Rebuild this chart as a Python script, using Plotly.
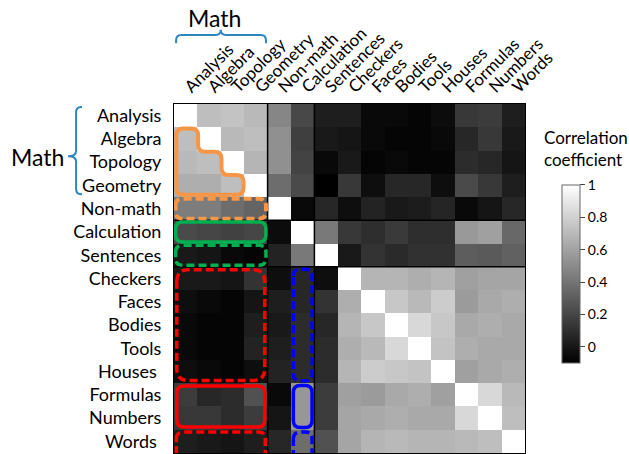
import plotly.graph_objects as go

# ---- categories -----------------------------------------------------------
labels = ["Analysis", "Algebra", "Topology", "Geometry", "Non-math", "Calculation",
          "Sentences", "Checkers", "Faces", "Bodies", "Tools", "Houses\u00a0",
          "Formulas", "Numbers", "Words\u00a0"]

# ---- correlation matrix, one row per category -----------------------------
analysis    = [1.00, 0.72, 0.74, 0.70, 0.48, 0.21, 0.03, 0.03, -0.06, -0.06, -0.08, -0.05, 0.14, 0.16, 0.03]
algebra     = [0.72, 1.00, 0.70, 0.72, 0.52, 0.17, 0.01, -0.01, -0.06, -0.08, -0.08, -0.06, 0.07, 0.14, 0.01]
topology    = [0.70, 0.72, 1.00, 0.68, 0.52, 0.19, -0.06, 0.01, -0.08, -0.06, -0.08, -0.08, 0.09, 0.07, -0.01]
geometry    = [0.65, 0.65, 0.72, 1.00, 0.37, 0.22, -0.10, 0.14, -0.04, 0.07, 0.07, -0.04, 0.22, 0.14, 0.03]
non_math    = [0.44, 0.44, 0.37, 0.33, 1.00, -0.06, 0.07, -0.04, 0.05, 0.01, 0.02, 0.06, -0.06, -0.01, 0.07]
calculation = [0.22, 0.20, 0.18, 0.20, -0.05, 1.00, 0.42, 0.14, 0.10, 0.15, 0.10, 0.10, 0.56, 0.59, 0.35]
sentences   = [0.01, -0.01, -0.06, -0.08, 0.05, 0.42, 1.00, 0.01, 0.12, 0.08, 0.11, 0.11, 0.30, 0.29, 0.32]
checkers    = [0.01, 0.01, -0.01, 0.12, -0.04, 0.07, -0.04, 1.00, 0.68, 0.68, 0.65, 0.68, 0.59, 0.61, 0.61]
faces       = [-0.04, -0.06, -0.08, -0.01, 0.03, 0.07, 0.12, 0.65, 1.00, 0.76, 0.70, 0.78, 0.57, 0.63, 0.65]
bodies      = [-0.06, -0.08, -0.08, 0.03, 0.01, 0.09, 0.07, 0.68, 0.76, 1.00, 0.83, 0.76, 0.63, 0.65, 0.63]
tools       = [-0.06, -0.08, -0.08, 0.05, 0.03, 0.09, 0.09, 0.65, 0.70, 0.83, 1.00, 0.74, 0.65, 0.63, 0.63]
houses      = [-0.04, -0.06, -0.08, -0.04, 0.05, 0.09, 0.09, 0.68, 0.78, 0.76, 0.74, 1.00, 0.59, 0.63, 0.65]
formulas    = [0.16, 0.07, 0.09, 0.25, -0.06, 0.55, 0.16, 0.59, 0.57, 0.63, 0.65, 0.59, 1.00, 0.83, 0.70]
numbers     = [0.14, 0.14, 0.09, 0.16, -0.01, 0.55, 0.16, 0.61, 0.63, 0.65, 0.63, 0.63, 0.83, 1.00, 0.72]
words       = [0.03, 0.01, -0.01, 0.03, 0.07, 0.37, 0.25, 0.61, 0.68, 0.70, 0.68, 0.68, 0.70, 0.72, 1.00]

matrix = [analysis, algebra, topology, geometry, non_math, calculation, sentences,
          checkers, faces, bodies, tools, houses, formulas, numbers, words]

colorbar_ticks = [0, 0.2, 0.4, 0.6, 0.8, 1]
colorbar_labels = ["0", "0.2", "0.4", "0.6", "0.8", "1"]

FONT = "Lato"
n = len(labels)
idx = list(range(n))

fig = go.Figure(go.Heatmap(
    z=matrix, x=idx, y=idx,
    zmin=-0.1, zmax=1.0,
    colorscale=[[0, "black"], [1, "white"]],
    colorbar=dict(
        thickness=18, lenmode="pixels", len=178,
        x=1.105, xanchor="left", xpad=0,
        y=0.513, yanchor="middle", ypad=0,
        outlinewidth=1, outlinecolor="#666666",
        tickvals=colorbar_ticks, ticktext=colorbar_labels,
        ticks="outside", ticklen=5, tickcolor="#444444",
        tickfont=dict(family=FONT, size=14, color="black"),
    ),
    hoverinfo="skip",
))


def rounded_path(pts, r):
    """Closed polygon path with every corner rounded by a quadratic curve."""
    m = len(pts)
    starts, ends = [], []
    for i in range(m):
        x0, y0 = pts[i - 1]
        x1, y1 = pts[i]
        x2, y2 = pts[(i + 1) % m]
        d1 = ((x1 - x0) ** 2 + (y1 - y0) ** 2) ** 0.5
        d2 = ((x2 - x1) ** 2 + (y2 - y1) ** 2) ** 0.5
        starts.append((x1 - (x1 - x0) / d1 * r, y1 - (y1 - y0) / d1 * r))
        ends.append((x1 + (x2 - x1) / d2 * r, y1 + (y2 - y1) / d2 * r))
    path = "M{:.4f},{:.4f}".format(*starts[0])
    for i in range(m):
        cx, cy = pts[i]
        path += " Q{:.4f},{:.4f} {:.4f},{:.4f}".format(cx, cy, *ends[i])
        nx, ny = starts[(i + 1) % m]
        path += " L{:.4f},{:.4f}".format(nx, ny)
    return path + " Z"


def cell_box(r0, r1, c0, c1, inset=0.1):
    return [(c0 - 0.5 + inset, r0 - 0.5 + inset), (c1 + 0.5 - inset, r0 - 0.5 + inset),
            (c1 + 0.5 - inset, r1 + 0.5 - inset), (c0 - 0.5 + inset, r1 + 0.5 - inset)]


shapes = []


def add_box(pts, color, dashed, r=0.3, width=3.5):
    shapes.append(dict(type="path", xref="x", yref="y", path=rounded_path(pts, r),
                       line=dict(color=color, width=width,
                                 dash="8px,4px" if dashed else "solid"),
                       fillcolor="rgba(0,0,0,0)", layer="above"))


# group separators inside the matrix
for xv in (3.5, 5.5):
    shapes.append(dict(type="line", xref="x", yref="y", x0=xv, x1=xv, y0=-0.5, y1=n - 0.5,
                       line=dict(color="black", width=1.5), layer="above"))
for yv in (4.5, 6.5):
    shapes.append(dict(type="line", xref="x", yref="y", x0=-0.5, x1=n - 0.5, y0=yv, y1=yv,
                       line=dict(color="black", width=1.5), layer="above"))

ORANGE, GREEN, RED, BLUE = "#F79646", "#00B050", "#FF0000", "#0000FF"

# staircase around the lower triangle of the math block
stair = [(-0.4, 0.55)]
for j in range(2):
    stair += [(j + 0.53, j + 0.55), (j + 0.53, j + 1.55)]
stair += [(2.47, 2.55), (2.47, 3.4), (-0.4, 3.4)]
add_box(stair, ORANGE, False, r=0.3, width=4)
add_box(cell_box(4, 4, 0, 3, 0.07), ORANGE, True, r=0.3, width=4)

add_box(cell_box(5, 5, 0, 3, 0.07), GREEN, False)
add_box(cell_box(6, 6, 0, 3, 0.07), GREEN, True)

add_box(cell_box(7, 11, 0, 3, 0.12), RED, True, r=0.5)
add_box(cell_box(12, 13, 0, 3, 0.12), RED, False)
add_box(cell_box(14, 14.6, 0, 3, 0.1), RED, True)

add_box(cell_box(7, 11, 5, 5, 0.1), BLUE, True)
add_box(cell_box(12, 13, 5, 5, 0.1), BLUE, False)
add_box(cell_box(14, 14.6, 5, 5, 0.1), BLUE, True)


# brackets marking the math categories (paper coordinates)
def px(c):
    return (c + 0.5) / n


def py(r):
    return 1 - (r + 0.5) / n


BR = "#2E86C1"
# top bracket over columns 0-3
xl, xr, xc = px(-0.41), px(3.43), px(1.5)
yh, yb, yn = 1.198, 1.174, 1.213
rr = 0.015
top_br = ("M{xl},{yb} L{xl},{a} Q{xl},{yh} {b},{yh} L{c},{yh} Q{xc},{yh} {xc},{yn} "
          "Q{xc},{yh} {d},{yh} L{e},{yh} Q{xr},{yh} {xr},{a} L{xr},{yb}").format(
    xl=xl, xr=xr, xc=xc, yh=yh, yb=yb, yn=yn,
    a=yh - rr, b=xl + rr, c=xc - rr, d=xc + rr, e=xr - rr)
shapes.append(dict(type="path", xref="paper", yref="paper", path=top_br,
                   line=dict(color=BR, width=2)))

# left bracket beside rows 0-3
yt, ybm, ym = py(-0.37), py(3.38), py(1.75)
xv, xhk, xn = -0.279, -0.262, -0.302
rx = 0.015
left_br = ("M{xhk},{yt} L{a},{yt} Q{xv},{yt} {xv},{b} L{xv},{c} Q{xv},{ym} {xn},{ym} "
           "Q{xv},{ym} {xv},{d} L{xv},{e} Q{xv},{ybm} {a},{ybm} L{xhk},{ybm}").format(
    xhk=xhk, xv=xv, xn=xn, yt=yt, ybm=ybm, ym=ym,
    a=xv + rx, b=yt - rx, c=ym + rx, d=ym - rx, e=ybm + rx)
shapes.append(dict(type="path", xref="paper", yref="paper", path=left_br,
                   line=dict(color=BR, width=2)))

annotations = [
    dict(text="Math", xref="paper", yref="paper", x=0.114, y=1.246,
         xanchor="center", yanchor="middle",
         showarrow=False, font=dict(family=FONT, size=23, color="black")),
    dict(text="Math", xref="paper", yref="paper", x=-0.39, y=0.848,
         xanchor="center", yanchor="middle",
         showarrow=False, font=dict(family=FONT, size=23, color="black")),
    dict(text="Correlation<br>coefficient", xref="paper", yref="paper",
         x=1.048, y=0.805, xanchor="left", yanchor="bottom", align="left",
         showarrow=False, font=dict(family=FONT, size=17, color="black")),
]

fig.update_layout(
    width=629, height=454,
    margin=dict(l=174, r=104, t=104, b=1),
    paper_bgcolor="white", plot_bgcolor="white",
    font=dict(family=FONT, color="black"),
    shapes=shapes, annotations=annotations,
    xaxis=dict(side="top", tickvals=idx, ticktext=labels, tickangle=-45,
               tickfont=dict(family=FONT, size=17, color="black"),
               showgrid=False, zeroline=False, ticks="", ticklabelstandoff=0,
               showline=True, linecolor="black", linewidth=1, mirror=True,
               range=[-0.5, n - 0.5]),
    yaxis=dict(tickvals=idx, ticktext=labels, autorange=False, range=[n - 0.5, -0.5],
               tickfont=dict(family=FONT, size=18, color="black"),
               showgrid=False, zeroline=False, ticks="", ticklabelstandoff=8,
               showline=True, linecolor="black", linewidth=1, mirror=True),
)

fig.write_html("out.html")
